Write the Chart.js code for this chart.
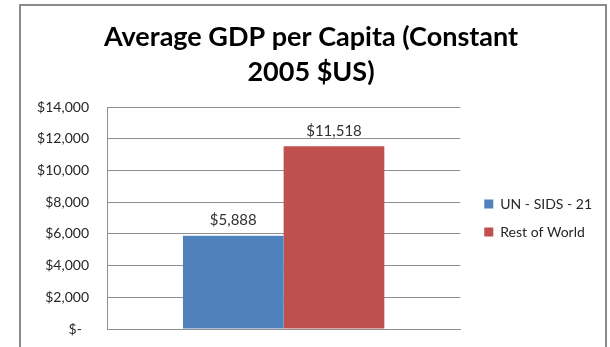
<!DOCTYPE html>
<html>
<head>
<meta charset="utf-8">
<script src="https://cdn.jsdelivr.net/npm/chart.js@4"></script>
<style>
  html, body { margin: 0; padding: 0; background: #fff; }
  #wrap { width: 610px; height: 347px; position: relative; }
</style>
</head>
<body>
<div id="wrap"><canvas id="c" width="610" height="347"></canvas></div>
<script>
// ---- data ----
const categories = [''];
const seriesNames = ['UN - SIDS - 21', 'Rest of World'];
const sidsValues = [5888];
const restValues = [11518];
const yTickValues = [0, 2000, 4000, 6000, 8000, 10000, 12000, 14000];
const yTickLabels = ['$-  ', '$2,000', '$4,000', '$6,000', '$8,000', '$10,000', '$12,000', '$14,000'];
const titleLines = ['Average GDP per Capita (Constant', '2005 $US)'];

const FONT = 'Lato, "Open Sans", "Liberation Sans", sans-serif';
const GRID = '#8e8e8e';

const framePlugin = {
  id: 'frame',
  beforeDraw(chart) {
    const ctx = chart.ctx;
    ctx.save();
    ctx.fillStyle = '#fff';
    ctx.fillRect(0, 0, chart.width, chart.height);
    ctx.strokeStyle = '#8a8a8a';
    ctx.lineWidth = 2;
    ctx.beginPath();
    ctx.moveTo(20, chart.height + 5);
    ctx.lineTo(20, 5);
    ctx.lineTo(606, 5);
    ctx.lineTo(606, chart.height + 5);
    ctx.stroke();
    ctx.restore();
  }
};

// let the right-hand legend keep its natural width next to the spacer axis
const legendWidth = {
  id: 'legendWidth',
  beforeLayout(chart) {
    const lg = chart.legend;
    if (lg && !lg.__patched) {
      const orig = lg.fit;
      lg.fit = function () {
        this.maxWidth = Math.max(this.maxWidth || 0, 200);
        orig.call(this);
      };
      lg.__patched = true;
    }
  }
};

const valueLabels = {
  id: 'valueLabels',
  afterDatasetsDraw(chart) {
    const ctx = chart.ctx;
    ctx.save();
    ctx.font = '15px ' + FONT;
    ctx.fillStyle = '#303030';
    ctx.textAlign = 'center';
    ctx.textBaseline = 'middle';
    chart.data.datasets.forEach((ds, di) => {
      const meta = chart.getDatasetMeta(di);
      meta.data.forEach((el, i) => {
        const v = ds.data[i];
        ctx.fillText('$' + v.toLocaleString('en-US'), el.x, el.y - 15);
      });
    });
    ctx.restore();
  }
};

new Chart(document.getElementById('c'), {
  type: 'bar',
  data: {
    labels: categories,
    datasets: [
      { label: seriesNames[0], data: sidsValues, backgroundColor: '#4F81BD', borderWidth: 0 },
      { label: seriesNames[1], data: restValues, backgroundColor: '#C0504D', borderWidth: 0 }
    ]
  },
  options: {
    responsive: false,
    animation: false,
    devicePixelRatio: 1,
    layout: { padding: { left: 20, right: 8, top: 0, bottom: 18 } },
    datasets: { bar: { categoryPercentage: 0.57, barPercentage: 1 } },
    plugins: {
      title: {
        display: true,
        text: titleLines,
        color: '#000',
        font: { family: FONT, size: 27, weight: 'bold', lineHeight: 35 / 27 },
        padding: { top: 19.5, bottom: 17.5 }
      },
      legend: {
        position: 'right',
        align: 'center',
        fullSize: false,
        labels: {
          boxWidth: 9,
          boxHeight: 9,
          padding: 14,
          color: '#262626',
          font: { family: FONT, size: 14 }
        }
      },
      tooltip: { enabled: false }
    },
    scales: {
      x: {
        grid: { display: false },
        ticks: { display: false },
        border: { display: true, color: GRID, width: 1 },
        afterFit(s) { s.height = 0; }
      },
      y: {
        min: 0,
        max: 14000,
        afterBuildTicks(s) { s.ticks = yTickValues.map(v => ({ value: v })); },
        ticks: {
          color: '#262626',
          font: { family: FONT, size: 14 },
          padding: 2,
          callback(v) { return yTickLabels[yTickValues.indexOf(v)]; }
        },
        grid: { color: GRID, drawTicks: true, tickLength: 16, tickColor: 'rgba(0,0,0,0)', lineWidth: 1 },
        border: { display: true, color: GRID, width: 1 },
        afterFit(s) { s.width = 87; }
      },
      yr: {
        position: 'right',
        display: true,
        grid: { display: false },
        ticks: { display: false },
        border: { display: false },
        afterFit(s) { s.width = 10; }
      }
    }
  },
  plugins: [framePlugin, legendWidth, valueLabels]
});
</script>
</body>
</html>
